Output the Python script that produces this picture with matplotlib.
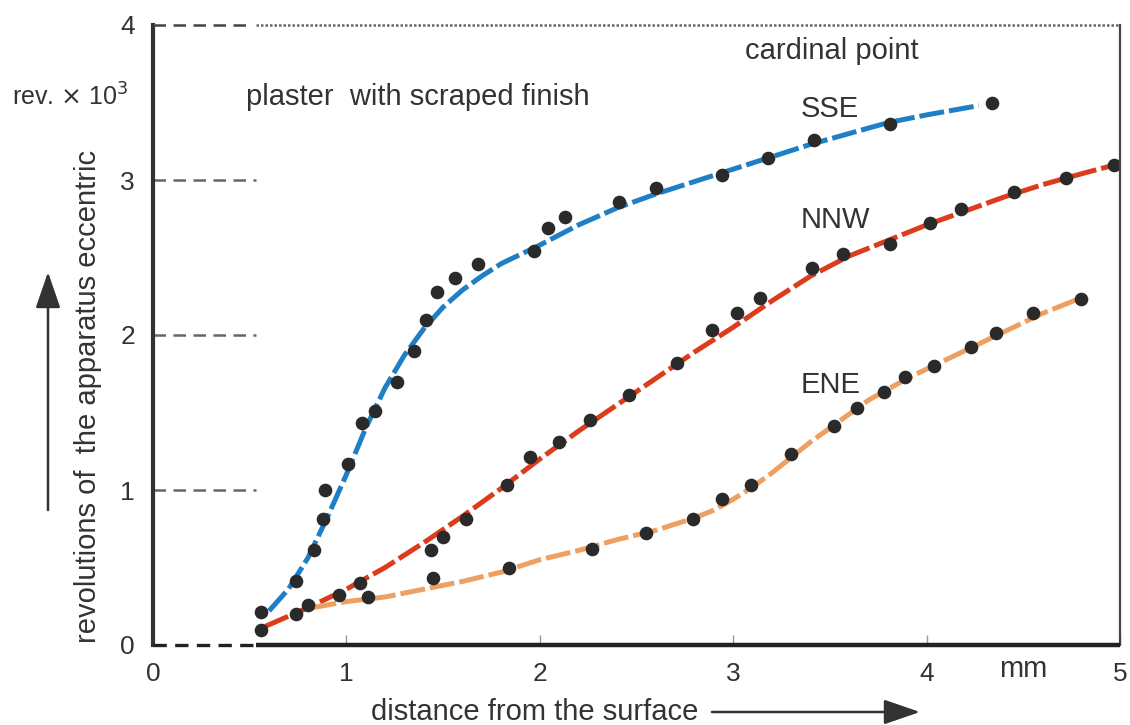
import matplotlib
matplotlib.use("Agg")
import matplotlib.pyplot as plt
from matplotlib.patches import FancyArrowPatch

plt.rcParams['font.family'] = ['Liberation Sans', 'DejaVu Sans']

# ---------------- data ----------------
x_ticks = [0, 1, 2, 3, 4, 5]
y_ticks = [0, 1, 2, 3, 4]
guide_levels = [0, 1, 2, 3]

# measured points
sse_x = [0.56, 0.74, 0.83, 0.88, 0.89, 1.01, 1.08, 1.15, 1.26, 1.35, 1.41, 1.47,
         1.56, 1.68, 1.97, 2.04, 2.13, 2.41, 2.60, 2.94, 3.18, 3.42, 3.81, 4.34]
sse_y = [0.21, 0.41, 0.61, 0.81, 1.00, 1.17, 1.43, 1.51, 1.70, 1.90, 2.10, 2.28,
         2.37, 2.46, 2.54, 2.69, 2.76, 2.86, 2.95, 3.03, 3.14, 3.26, 3.36, 3.50]

nnw_x = [0.56, 0.74, 0.80, 0.96, 1.07, 1.44, 1.50, 1.62, 1.83, 1.95, 2.10, 2.26,
         2.46, 2.71, 2.89, 3.02, 3.14, 3.41, 3.57, 3.81, 4.02, 4.18, 4.45, 4.72, 4.97]
nnw_y = [0.10, 0.20, 0.26, 0.32, 0.40, 0.61, 0.70, 0.81, 1.03, 1.21, 1.31, 1.45,
         1.61, 1.82, 2.03, 2.14, 2.24, 2.43, 2.52, 2.59, 2.72, 2.81, 2.92, 3.01, 3.10]

ene_x = [1.11, 1.45, 1.84, 2.27, 2.55, 2.79, 2.94, 3.09, 3.30, 3.52, 3.64, 3.78,
         3.89, 4.04, 4.23, 4.36, 4.55, 4.80]
ene_y = [0.31, 0.43, 0.50, 0.62, 0.72, 0.81, 0.94, 1.03, 1.23, 1.41, 1.53, 1.63,
         1.73, 1.80, 1.92, 2.01, 2.14, 2.23]

# fitted curves
sse_cx = [0.60, 0.70, 0.80, 0.90, 1.00, 1.10, 1.20, 1.30, 1.40, 1.50, 1.60, 1.70,
          1.80, 1.90, 2.00, 2.20, 2.40, 2.60, 2.80, 3.00, 3.20, 3.40, 3.60, 3.80,
          4.00, 4.27]
sse_cy = [0.22, 0.36, 0.56, 0.82, 1.10, 1.40, 1.66, 1.87, 2.04, 2.18, 2.29, 2.38,
          2.46, 2.52, 2.58, 2.71, 2.82, 2.91, 2.99, 3.07, 3.15, 3.23, 3.30, 3.37,
          3.42, 3.48]

nnw_cx = [0.58, 0.80, 1.00, 1.20, 1.40, 1.60, 1.80, 2.00, 2.20, 2.40, 2.60, 2.80,
          3.00, 3.20, 3.40, 3.60, 3.80, 4.00, 4.20, 4.40, 4.60, 4.80, 4.95]
nnw_cy = [0.12, 0.24, 0.36, 0.50, 0.66, 0.83, 1.01, 1.20, 1.38, 1.55, 1.72, 1.89,
          2.05, 2.22, 2.38, 2.51, 2.61, 2.71, 2.80, 2.89, 2.97, 3.04, 3.09]

ene_cx = [0.82, 1.00, 1.20, 1.40, 1.60, 1.80, 2.00, 2.20, 2.40, 2.60, 2.70, 2.80,
          2.90, 3.00, 3.10, 3.20, 3.30, 3.40, 3.50, 3.60, 3.70, 3.80, 3.90, 4.00,
          4.20, 4.40, 4.60, 4.78]
ene_cy = [0.24, 0.28, 0.31, 0.36, 0.41, 0.47, 0.55, 0.61, 0.68, 0.74, 0.78, 0.82,
          0.87, 0.94, 1.02, 1.11, 1.21, 1.31, 1.40, 1.49, 1.58, 1.65, 1.72, 1.78,
          1.90, 2.02, 2.14, 2.23]

series_names = ["SSE", "NNW", "ENE"]
colors = {"SSE": "#1f7fc6", "NNW": "#dc3b1c", "ENE": "#eea062"}

# ---------------- figure ----------------
W, H = 1130, 725
fig = plt.figure(figsize=(W / 100, H / 100), dpi=100)
L, R, T, B = 153, 1120, 25, 645
ax = fig.add_axes([L / W, 1 - B / H, (R - L) / W, (B - T) / H])
ax.set_xlim(0, 5)
ax.set_ylim(0, 4)
for s in ax.spines.values():
    s.set_visible(False)

ink = "#2a2a2a"
guide_end = 0.53

# frame
ax.plot([0, 0], [0, 4], color="#333333", lw=3.0, clip_on=False, zorder=5)
ax.plot([5, 5], [0, 4], color="#444444", lw=1.6, clip_on=False, zorder=5)
ax.plot([guide_end, 5], [4, 4], color="#666666", lw=1.8, ls=(0, (1, 0.8)),
        clip_on=False, zorder=5)
ax.plot([0, guide_end - 0.05], [4, 4], color="#444444", lw=1.8, ls=(0, (5, 3)),
        clip_on=False, zorder=5)
ax.plot([guide_end, 5], [0, 0], color="#222222", lw=3.2, clip_on=False,
        solid_capstyle="butt", zorder=5)
ax.plot([0, guide_end], [0, 0], color="#222222", lw=2.4, ls=(0, (4, 2.5)),
        clip_on=False, zorder=5)
for lv in guide_levels[1:]:
    ax.plot([0, guide_end], [lv, lv], color="#666666", lw=1.8, ls=(0, (5, 3)),
            zorder=2)

# curves
curves = {"SSE": (sse_cx, sse_cy), "NNW": (nnw_cx, nnw_cy), "ENE": (ene_cx, ene_cy)}
points = {"SSE": (sse_x, sse_y), "NNW": (nnw_x, nnw_y), "ENE": (ene_x, ene_y)}
for name in series_names:
    cx, cy = curves[name]
    ax.plot(cx, cy, color=colors[name], lw=3.6, ls=(0, (5, 1.0)),
            solid_capstyle="butt", dash_capstyle="butt", solid_joinstyle="round",
            dash_joinstyle="round", zorder=3)
for name in series_names:
    px, py = points[name]
    ax.plot(px, py, ls="none", marker="o", ms=8.8, color=ink, mec=ink, zorder=4)

# ticks
ax.set_xticks(x_ticks)
ax.set_xticklabels([str(v) for v in x_ticks])
ax.set_yticks(y_ticks)
ax.set_yticklabels([str(v) for v in y_ticks])
ax.tick_params(axis="x", direction="in", length=7, width=1.0, color="#999999",
               pad=12, labelsize=19, labelcolor="#333333")
ax.tick_params(axis="y", length=0, pad=13, labelsize=19, labelcolor="#333333")

# text
txt = "#333333"
fs = 21
ax.text(4.5, -0.155, "mm", ha="center", va="center", fontsize=fs, color=txt)
ax.text(0.48, 3.535, "plaster  with scraped finish", ha="left", va="center",
        fontsize=fs, color=txt)
ax.text(3.06, 3.83, "cardinal point", ha="left", va="center", fontsize=fs, color=txt)
ax.text(3.35, 3.46, "SSE", ha="left", va="center", fontsize=fs, color=txt)
ax.text(3.35, 2.74, "NNW", ha="left", va="center", fontsize=fs, color=txt)
ax.text(3.35, 1.68, "ENE", ha="left", va="center", fontsize=fs, color=txt)

fig.text(12 / W, 1 - 97 / H, "rev. $\\times$ 10$^3$", ha="left", va="center",
         fontsize=18, color=txt)
fig.text(88 / W, 1 - 396 / H, "revolutions of  the apparatus eccentric",
         rotation=90, ha="center", va="center", fontsize=fs, color=txt)
fig.text(535 / W, 1 - 712 / H, "distance from the surface", ha="center",
         va="center", fontsize=fs, color=txt)

arrow_kw = dict(arrowstyle="-|>,head_length=1.6,head_width=0.55", color="#333333",
                lw=1.8, shrinkA=0, shrinkB=0, mutation_scale=14)
fig.add_artist(FancyArrowPatch(
    (712 / W, 1 - 712 / H), (920 / W, 1 - 712 / H), transform=fig.transFigure,
    **arrow_kw))
fig.add_artist(FancyArrowPatch(
    (48 / W, 1 - 510 / H), (48 / W, 1 - 272 / H), transform=fig.transFigure,
    **arrow_kw))

fig.savefig("out.png", dpi=100)
